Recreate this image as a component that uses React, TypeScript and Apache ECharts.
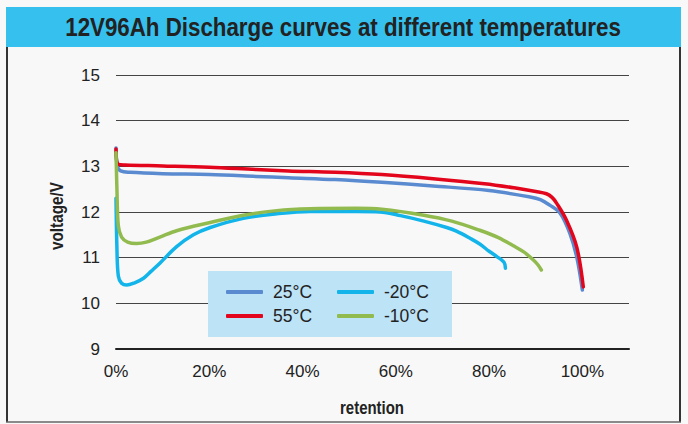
import React, { useEffect, useRef } from "react";
import * as echarts from "echarts";

const seriesNames = ["25°C", "55°C", "-20°C", "-10°C"];
const seriesColors = ["#5a8bd0", "#e3051b", "#12b4ea", "#92bb4f"];

const data25: [number, number][] = [
  [0, 13.4], [0.3, 13.0], [1, 12.9], [3, 12.87], [10, 12.84], [20, 12.82], [30, 12.78],
  [37, 12.75], [47, 12.71], [57, 12.65], [68, 12.57], [80, 12.47], [88.8, 12.33],
  [91, 12.27], [93, 12.15], [95.2, 11.98], [97.3, 11.54], [98.8, 11.01], [100, 10.29],
];
const data55: [number, number][] = [
  [0, 13.38], [0.4, 13.05], [2, 13.03], [10, 13.01], [20, 12.98], [30, 12.93], [37, 12.9],
  [47, 12.87], [57, 12.82], [68, 12.73], [79, 12.62], [86, 12.52], [90, 12.45],
  [92.3, 12.4], [93.5, 12.32], [94.5, 12.19], [96.6, 11.82], [98.8, 11.23], [100.2, 10.36],
];
const dataM20: [number, number][] = [
  [0, 12.3], [0.2, 11.2], [0.5, 10.6], [1.2, 10.44], [2.3, 10.4], [4, 10.45], [5.9, 10.55],
  [7.5, 10.7], [9.4, 10.88], [13, 11.24], [16.6, 11.5], [20.2, 11.66], [27.3, 11.86],
  [34.5, 11.96], [41.6, 12.01], [51.6, 12.01], [56.6, 12.0], [61, 11.92], [66, 11.8],
  [70.9, 11.66], [73, 11.58], [76, 11.42], [78, 11.3], [80, 11.14], [81.6, 11.03],
  [83.2, 10.9], [83.5, 10.77],
];
const dataM10: [number, number][] = [
  [0, 13.3], [0.2, 12.5], [0.5, 11.7], [1.2, 11.45], [2.5, 11.34], [4.4, 11.31], [6.5, 11.34],
  [9.4, 11.45], [13, 11.59], [20.2, 11.77], [27.3, 11.93], [34.5, 12.03], [41.6, 12.07],
  [51.6, 12.08], [57, 12.06], [66, 11.93], [72, 11.8], [78, 11.6], [82, 11.44],
  [85.2, 11.26], [87.5, 11.12], [89.5, 10.95], [90.5, 10.84], [91.2, 10.73],
];
const allData = [data25, data55, dataM20, dataM10];

const titleText = "12V96Ah Discharge curves at different temperatures";
const xAxisName = "retention";
const yAxisName = "voltage/V";

const regular = '"Liberation Sans", Arial, Helvetica, sans-serif';

function measure(text: string, font: string): number {
  const c = document.createElement("canvas").getContext("2d");
  if (!c) return 1;
  c.font = font;
  return c.measureText(text).width || 1;
}

function narrowText(text: string, size: number, targetWidth: number, x: number, y: number, rotation = 0) {
  const w = measure(text, `bold ${size}px "Liberation Sans"`);
  return {
    type: "text",
    z: 6,
    x,
    y,
    rotation,
    scaleX: targetWidth / w,
    style: {
      text,
      fontFamily: regular,
      fontWeight: "bold",
      fontSize: size,
      fill: "#222",
      align: "center",
      verticalAlign: "middle",
    },
  };
}

export default function App() {
  const ref = useRef<HTMLDivElement>(null);
  useEffect(() => {
    if (!ref.current) return;
    const chart = echarts.init(ref.current, undefined, { renderer: "svg" });
    const legendBase = {
      orient: "vertical", top: 283, padding: 0,
      itemWidth: 37, itemHeight: 4, itemGap: 6, icon: "roundRect", z: 5,
      textStyle: { fontFamily: regular, fontSize: 17.5, lineHeight: 18, color: "#222", padding: [0, 0, 0, 5] },
    };
    chart.setOption({
      animation: false,
      backgroundColor: "#f8f8f8",
      graphic: [
        { type: "rect", z: 0, shape: { x: 6, y: 7, width: 675, height: 40 }, style: { fill: "#36c0ee" } },
        { type: "line", z: 0, shape: { x1: 7, y1: 47, x2: 7, y2: 422 }, style: { stroke: "#333", lineWidth: 2 } },
        { type: "line", z: 0, shape: { x1: 680, y1: 47, x2: 680, y2: 422 }, style: { stroke: "#333", lineWidth: 2 } },
        { type: "line", z: 0, shape: { x1: 6, y1: 422, x2: 681, y2: 422 }, style: { stroke: "#666", lineWidth: 1.5 } },
        { type: "rect", z: 3, shape: { x: 208, y: 271, width: 244, height: 66 }, style: { fill: "#bde3f7" } },
        narrowText(titleText, 25, 556, 343, 28),
        narrowText(xAxisName, 18, 64, 372, 408),
        narrowText(yAxisName, 18, 68, 57, 216, Math.PI / 2),
      ],
      legend: [
        { ...legendBase, data: seriesNames.slice(0, 2), left: 226 },
        { ...legendBase, data: seriesNames.slice(2, 4), left: 337 },
      ],
      grid: { left: 116, right: 59, top: 75, bottom: 75 },
      xAxis: {
        type: "value", min: 0, max: 110, interval: 20,
        axisLine: { show: true, lineStyle: { color: "#222", width: 2 } },
        axisTick: { show: false },
        splitLine: { show: false },
        axisLabel: {
          margin: 14, fontFamily: regular, fontSize: 17, color: "#222",
          formatter: (v: number) => (v > 100 ? "" : v + "%"),
        },
      },
      yAxis: {
        type: "value", min: 9, max: 15, interval: 1,
        axisLine: { show: false },
        axisTick: { show: false },
        splitLine: { show: true, lineStyle: { color: "#444", width: 1 } },
        axisLabel: { margin: 16, fontFamily: regular, fontSize: 17, color: "#222" },
      },
      series: seriesNames.map((name, i) => ({
        name,
        type: "line",
        data: allData[i],
        showSymbol: false,
        smooth: 0.35,
        color: seriesColors[i],
        lineStyle: { width: 3.5, color: seriesColors[i], cap: "round", join: "round" },
        z: 2,
      })),
    });
    return () => chart.dispose();
  }, []);
  return (
    <div
      ref={ref}
      style={{ position: "absolute", left: 0, top: 0, width: 688, height: 424, background: "#f8f8f8" }}
    />
  );
}
